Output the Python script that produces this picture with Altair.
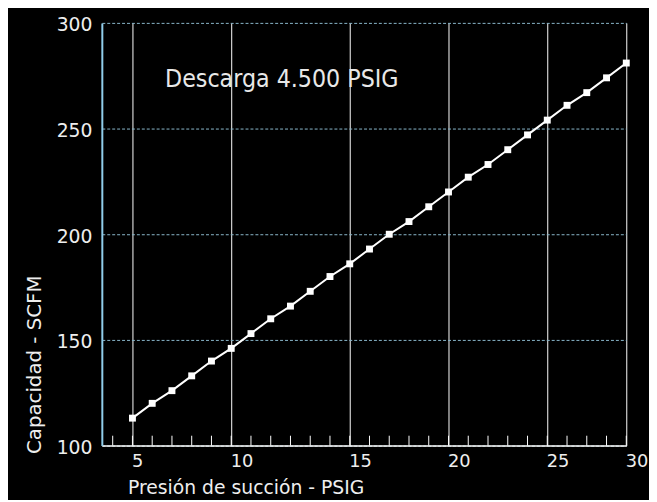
import altair as alt
import pandas as pd

# ---- data ----
suction_psig = list(range(5, 31))
capacity_scfm = [113, 120, 126, 133, 140, 146, 153, 160, 166, 173, 180, 186, 193,
                 200, 206, 213, 220, 227, 233, 240, 247, 254, 261, 267, 274, 281]
grid_x = [5, 10, 16, 21, 26, 30]
grid_labels = ["5", "10", "15", "20", "25", "30"]
minor_ticks = list(range(4, 31))
y_ticks = [100, 150, 200, 250, 300]
annotation = ["Descarga 4.500 PSIG"]

W, H = 531, 428
FONT = "DejaVu Sans"
TXT = "#eeeeee"

df = pd.DataFrame({"x": suction_psig, "y": capacity_scfm})
ticks_df = pd.DataFrame({"x": minor_ticks})
ann_df = pd.DataFrame({"t": annotation})

label_expr = "datum.label"
for v, l in zip(grid_x, grid_labels):
    label_expr = f"datum.value == {v} ? '{l}' : ({label_expr})"

xscale = alt.Scale(domain=[3.45, 30], nice=False, zero=False)
yscale = alt.Scale(domain=[100, 300], nice=False, zero=False)

x_enc = alt.X(
    "x:Q", scale=xscale,
    axis=alt.Axis(
        values=grid_x, labelExpr=label_expr,
        grid=True, gridColor="white", gridWidth=1,
        ticks=False, domainColor="white", domainWidth=1.5,
        labelAlign="left", labelPadding=7, labelFontSize=18, labelFont=FONT,
        labelColor=TXT, labelFlush=False, labelOverlap=False, labelOffset=-1,
        title="Presión de succión - PSIG", titleX=26, titleY=49,
        titleAlign="left", titleBaseline="alphabetic", titleFontSize=19,
        titleFont=FONT, titleFontWeight="normal", titleColor=TXT,
    ),
)
y_enc = alt.Y(
    "y:Q", scale=yscale,
    axis=alt.Axis(
        values=y_ticks, grid=True, gridColor="#8ab8cc", gridDash=[3, 2], gridWidth=1,
        ticks=False, domainColor="#90cdea", domainWidth=2,
        labelPadding=10, labelFontSize=19, labelFont=FONT, labelColor=TXT, labelOffset=2,
        title="Capacidad - SCFM", titleX=-68, titleY=436, titleAlign="left",
        titleAngle=270, titleBaseline="middle", titleFontSize=20, titleFont=FONT,
        titleFontWeight="normal", titleColor=TXT,
    ),
)

ticks = alt.Chart(ticks_df).mark_rule(color="white", strokeWidth=1).encode(
    x=x_enc, y=alt.value(H - 10), y2=alt.value(H)
)
line = alt.Chart(df).mark_line(color="white", strokeWidth=2).encode(x=x_enc, y=y_enc)
points = alt.Chart(df).mark_point(shape="square", filled=True, size=49,
                                  color="white", opacity=1).encode(x=x_enc, y=y_enc)
text = alt.Chart(ann_df).mark_text(
    align="left", baseline="middle",
    font="'DejaVu Sans Condensed', Roboto, sans-serif",
    fontSize=25, color="#e8e8e8",
).encode(x=alt.value(64), y=alt.value(57), text="t:N")

chart = alt.layer(ticks, line, points, text).properties(
    width=W, height=H,
    padding={"left": 95, "top": 12, "right": 23, "bottom": 52},
    autosize=alt.AutoSizeParams(type="none"),
    background="black",
).configure_view(stroke=None)

chart.save("out.html", embed_options={"renderer": "svg", "actions": False})
